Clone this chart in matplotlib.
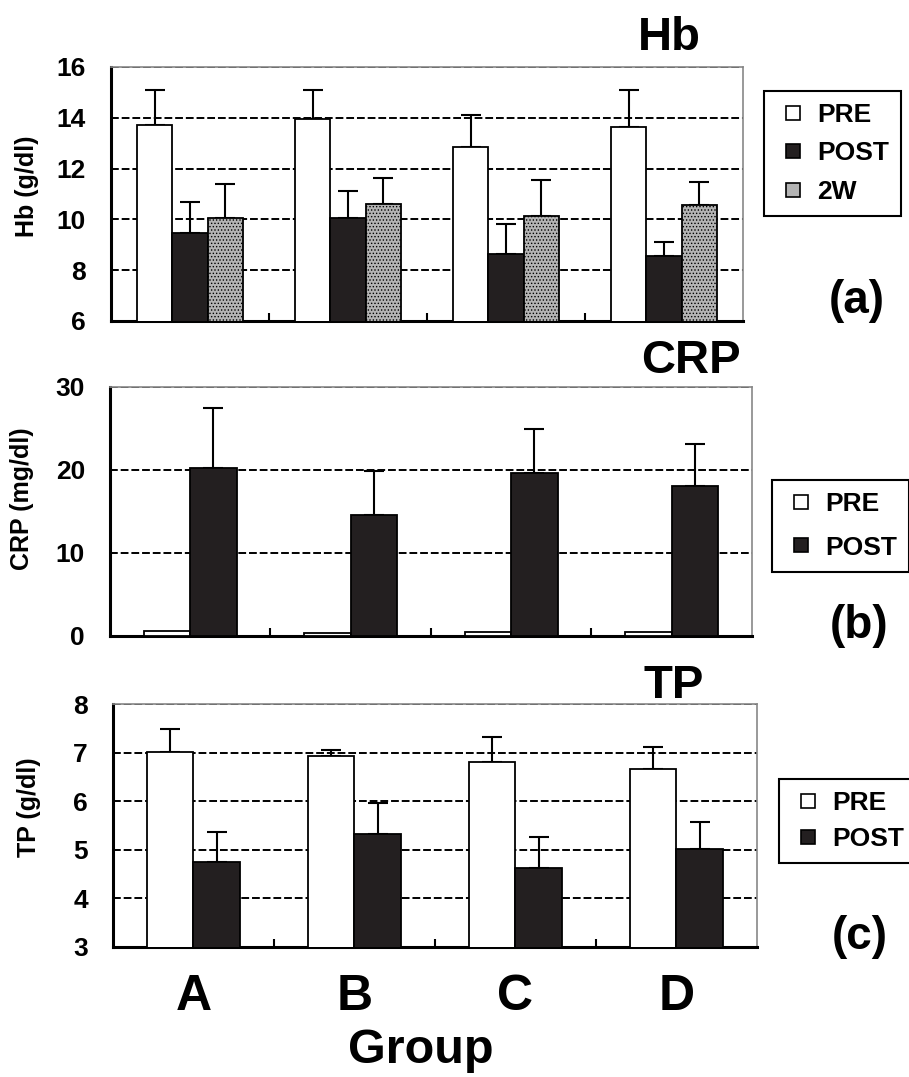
import numpy as np
import matplotlib.pyplot as plt
from matplotlib.lines import Line2D

plt.rcParams['font.family'] = ['Liberation Sans', 'DejaVu Sans']
plt.rcParams['font.weight'] = 'bold'
plt.rcParams['hatch.linewidth'] = 0.6

groups = ['A', 'B', 'C', 'D']

# Hb (g/dl)
hb_pre = [13.7, 13.95, 12.85, 13.63]
hb_pre_sd = [1.4, 1.15, 1.25, 1.47]
hb_post = [9.45, 10.05, 8.65, 8.55]
hb_post_sd = [1.25, 1.08, 1.15, 0.55]
hb_2w = [10.05, 10.6, 10.12, 10.55]
hb_2w_sd = [1.35, 1.03, 1.43, 0.91]

# CRP (mg/dl)
crp_pre = [0.6, 0.3, 0.5, 0.5]
crp_post = [20.2, 14.6, 19.65, 18.0]
crp_post_sd = [7.2, 5.3, 5.25, 5.1]

# TP (g/dl)
tp_pre = [7.02, 6.93, 6.8, 6.67]
tp_pre_sd = [0.47, 0.13, 0.52, 0.44]
tp_post = [4.75, 5.32, 4.62, 5.01]
tp_post_sd = [0.61, 0.65, 0.65, 0.56]

BLACK = '#231f20'
GRAY = '#b4b4b4'
x = np.arange(len(groups))


def style_axes(ax, ymin, ymax, ystep):
    ax.set_xlim(-0.5, len(groups) - 0.5)
    ax.set_ylim(ymin, ymax)
    ax.set_yticks(np.arange(ymin, ymax + 0.01, ystep))
    ax.tick_params(axis='y', length=0, pad=18, labelsize=19)
    ax.set_xticks(np.arange(0.5, len(groups) - 0.5, 1.0))
    ax.tick_params(axis='x', which='major', direction='in', length=6,
                   width=1.5, labelbottom=False)
    ax.yaxis.grid(True, color='black', linewidth=1.4, linestyle=(0, (4, 1.5)))
    ax.set_axisbelow(True)
    for s in ['left', 'bottom']:
        ax.spines[s].set_linewidth(2.2)
        ax.spines[s].set_color('black')
    for s in ['top', 'right']:
        ax.spines[s].set_linewidth(1.2)
        ax.spines[s].set_color('#888888')


def bars(ax, pos, vals, sd, width, color, hatch=None):
    ax.bar(pos, vals, width, color=color, edgecolor='black', linewidth=1.3,
           hatch=hatch, zorder=3)
    if sd is not None:
        ax.errorbar(pos, vals, yerr=[np.zeros(len(vals)), sd], fmt='none',
                    ecolor='black', elinewidth=1.5, capsize=7, capthick=1.5,
                    zorder=2)


def add_legend(ax, labels, colors, xy, spacing):
    handles = [Line2D([], [], linestyle='none', marker='s', markersize=9.5,
                      markerfacecolor=c, markeredgecolor='black',
                      markeredgewidth=1.2) for c in colors]
    leg = ax.legend(handles, labels, loc='upper left', bbox_to_anchor=xy,
                    bbox_transform=fig.transFigure, frameon=True,
                    fancybox=False, edgecolor='black', framealpha=1,
                    borderaxespad=0, borderpad=0.45, handlelength=1.3,
                    handletextpad=0.25, labelspacing=spacing,
                    prop={'size': 19, 'weight': 'bold'})
    leg.get_frame().set_linewidth(1.5)


fig = plt.figure(figsize=(9.09, 10.77), dpi=100)

# (a) Hb
ax_a = fig.add_axes([0.1221, 0.7020, 0.6953, 0.2358])
w = 0.222
bars(ax_a, x - w, hb_pre, hb_pre_sd, w, 'white')
bars(ax_a, x, hb_post, hb_post_sd, w, BLACK)
bars(ax_a, x + w, hb_2w, hb_2w_sd, w, GRAY, hatch='.....')
style_axes(ax_a, 6, 16, 2)
ax_a.text(-0.133, 0.53, 'Hb (g/dl)', transform=ax_a.transAxes, rotation=90,
          ha='center', va='center', fontsize=18)
add_legend(ax_a, ['PRE', 'POST', '2W'], ['white', BLACK, GRAY],
           (764 / 909, 1 - 91 / 1077), 0.55)

# (b) CRP
ax_b = fig.add_axes([0.1210, 0.4095, 0.7060, 0.2315])
w = 0.29
bars(ax_b, x - w / 2, crp_pre, None, w, 'white')
bars(ax_b, x + w / 2, crp_post, crp_post_sd, w, BLACK)
style_axes(ax_b, 0, 30, 10)
ax_b.text(-0.137, 0.55, 'CRP (mg/dl)', transform=ax_b.transAxes, rotation=90,
          ha='center', va='center', fontsize=18)
add_legend(ax_b, ['PRE', 'POST'], ['white', BLACK],
           (772 / 909, 1 - 480 / 1077), 0.75)

# (c) TP
ax_c = fig.add_axes([0.1243, 0.1210, 0.7081, 0.2253])
bars(ax_c, x - w / 2, tp_pre, tp_pre_sd, w, 'white')
bars(ax_c, x + w / 2, tp_post, tp_post_sd, w, BLACK)
style_axes(ax_c, 3, 8, 1)
ax_c.text(-0.13, 0.574, 'TP (g/dl)', transform=ax_c.transAxes, rotation=90,
          ha='center', va='center', fontsize=18)
add_legend(ax_c, ['PRE', 'POST'], ['white', BLACK],
           (779 / 909, 1 - 779 / 1077), 0.45)
ax_c.set_xticks(x, minor=True)
ax_c.set_xticklabels(groups, minor=True)
ax_c.tick_params(axis='x', which='minor', length=0, pad=20, labelsize=36)

# titles, panel letters, x label
for txt, px, py in [('Hb', 669, 50), ('CRP', 691, 373), ('TP', 674, 698)]:
    fig.text(px / 909, 1 - py / 1077, txt, ha='center', va='baseline',
             fontsize=34)
for txt, px, py in [('(a)', 857, 301), ('(b)', 859, 626), ('(c)', 860, 937)]:
    fig.text(px / 909, 1 - py / 1077, txt, ha='center', va='center',
             fontsize=33)
fig.text(421 / 909, 1 - 1063 / 1077, 'Group', ha='center', va='baseline',
         fontsize=35)

fig.savefig('out.png', dpi=100)
